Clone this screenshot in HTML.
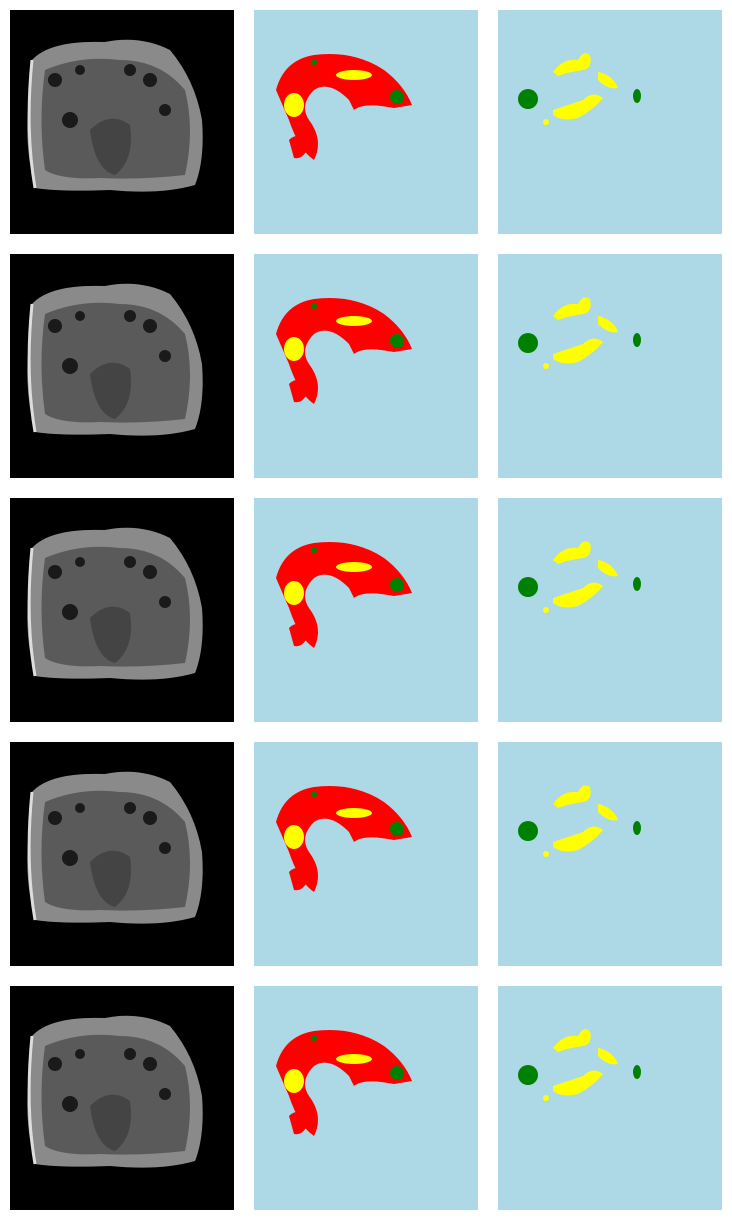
<!DOCTYPE html>
<html><head><meta charset="utf-8">
<style>
html,body{margin:0;padding:0;background:#fff;width:732px;height:1220px;overflow:hidden;font-family:"Liberation Sans",sans-serif}
svg{position:absolute;left:0;top:0}
</style></head>
<body>
<svg id="fig" width="732" height="1220"></svg>
<script>
const NS="http://www.w3.org/2000/svg";
const fig=document.getElementById('fig');
const colX=[10,254,498];
const rowY=[10,254,498,742,986];
const S=224;
function el(tag,attrs,parent){const e=document.createElementNS(NS,tag);for(const k in attrs)e.setAttribute(k,attrs[k]);parent.appendChild(e);return e;}
rowY.forEach((y,r)=>{
  // MRI panel
  const g1=el('g',{transform:`translate(${colX[0]},${y})`},fig);
  
  
  el('rect',{x:0,y:0,width:S,height:S,fill:'#000'},g1);
  el('path',{d:'M22,50 Q40,30 95,32 Q130,25 160,40 Q185,70 192,110 Q195,150 185,175 Q150,185 100,180 Q50,182 25,178 Q15,140 18,100 Z',fill:'#8a8a8a'},g1);
  el('path',{d:'M35,60 Q70,45 110,50 Q150,50 175,80 Q185,120 175,165 Q130,170 90,168 Q50,170 35,160 Q28,110 35,60 Z',fill:'#5a5a5a'},g1);
  el('path',{d:'M80,120 Q100,100 120,115 Q125,150 105,165 Q85,160 80,120 Z',fill:'#444'},g1);
  [[45,70,7],[70,60,5],[120,60,6],[140,70,7],[60,110,8],[155,100,6]].forEach(c=>el('circle',{cx:c[0],cy:c[1]+r*2,r:c[2],fill:'#1a1a1a'},g1));
  el('path',{d:'M22,50 Q15,120 25,178',stroke:'#ddd','stroke-width':3,fill:'none'},g1);
  // prediction panel
  const g2=el('g',{transform:`translate(${colX[1]},${y})`},fig);
  
  
  el('rect',{x:0,y:0,width:S,height:S,fill:'#add8e6'},g2);
  el('path',{d:'M22,80 Q30,50 60,45 Q100,40 130,60 Q150,75 158,95 L140,98 Q110,92 100,100 L95,90 Q75,70 60,80 Q45,95 55,110 Q70,130 60,150 Q45,140 35,110 Z',fill:'#f00'},g2);
  el('path',{d:'M35,130 Q45,120 55,135 Q50,150 40,148 Z',fill:'#f00'},g2);
  el('ellipse',{cx:40,cy:95,rx:10,ry:12,fill:'#ff0'},g2);
  el('ellipse',{cx:100,cy:65+r*2,rx:18,ry:5,fill:'#ff0'},g2);
  el('circle',{cx:143,cy:87,r:7,fill:'#008000'},g2);
  el('circle',{cx:60,cy:52,r:3,fill:'#008000'},g2);
  // ground truth panel
  const g3=el('g',{transform:`translate(${colX[2]},${y})`},fig);
  
  
  el('rect',{x:0,y:0,width:S,height:S,fill:'#add8e6'},g3);
  el('path',{d:'M55,62 Q65,48 80,50 Q85,40 92,45 Q95,58 85,60 Q70,62 60,66 Z',fill:'#ff0'},g3);
  el('path',{d:'M100,62 Q115,65 120,78 Q110,80 100,70 Z',fill:'#ff0'},g3);
  el('path',{d:'M55,100 Q70,95 85,90 Q95,80 105,88 Q95,100 80,108 Q65,112 55,105 Z',fill:'#ff0'},g3);
  el('circle',{cx:48,cy:112,r:3,fill:'#ff0'},g3);
  el('circle',{cx:30,cy:89,r:10,fill:'#008000'},g3);
  el('ellipse',{cx:139,cy:86,rx:4,ry:7,fill:'#008000'},g3);
});
</script>
</body></html>
